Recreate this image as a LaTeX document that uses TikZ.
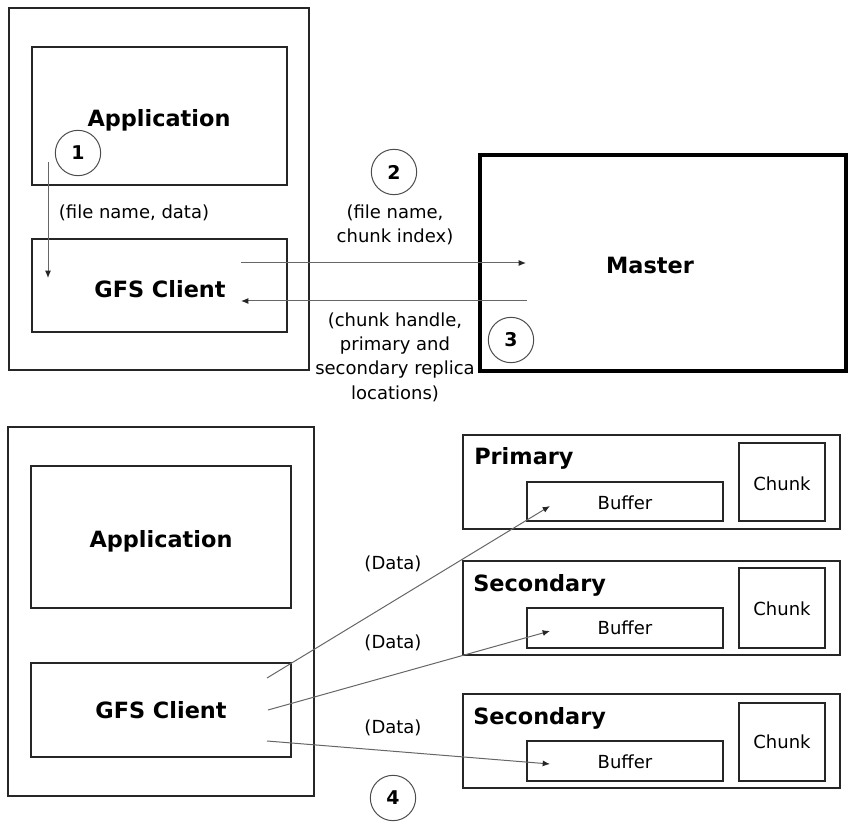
\documentclass[tikz,border=0pt]{standalone}
\usepackage{fontspec}
\setmainfont{DejaVu Sans}
\usetikzlibrary{arrows.meta,fit}
\begin{document}
\begin{tikzpicture}[x=0.75pt,y=-0.75pt,
  box/.style={draw=black!85,line width=1.1pt,inner sep=0pt},
  heavybox/.style={draw=black,line width=3pt,inner sep=0pt},
  title/.style={font=\fontsize{16.8}{20}\selectfont\bfseries,anchor=base,inner sep=0pt},
  lbl/.style={font=\fontsize{13.5}{18.3}\selectfont,align=center,inner sep=0pt},
  num/.style={circle,draw=black!70,line width=0.75pt,minimum size=34pt,inner sep=0pt,
              font=\fontsize{14.2}{16}\selectfont\bfseries},
  flow/.style={draw=black!60,line width=0.75pt,
               -{Latex[length=5.5pt,width=4.5pt,color=black!85]}}]

\useasboundingbox (0,0) rectangle (851,830);

% ---------- top: client machine and master ----------
\node[box,fit={(9,8) (309,370)}] (host1) {};
\node[box,fit={(32,47) (287,185)}] (app1) {};
\node[title] (app1t) at (159,127) {Application};
\node[box,fit={(32,239) (287,332)}] (cli1) {};
\node[title] (cli1t) at (160,298) {GFS Client};

\node[heavybox,fit={(480,155) (846,371)}] (master) {};
\node[title] (mastert) at (650,274) {Master};

\node[num] (n1) at (78,153) {1};
\node[num] (n2) at (394,172) {2};
\node[num] (n3) at (511,340) {3};

\coordinate (a1s) at (48,162);
\coordinate (a1e) at (48,278);
\draw[flow] (a1s) -- (a1e);
\node[lbl] (l1) at (134,213) {(file name, data)};

\coordinate (a2s) at (241,263);
\coordinate (a2e) at (526,263);
\draw[flow] (a2s) -- (a2e);
\node[lbl] (l2) at (395,225) {(file name,\\chunk index)};

\coordinate (a3s) at (527,301);
\coordinate (a3e) at (241,301);
\draw[flow] (a3s) -- (a3e);
\node[lbl] (l3) at (395,357) {(chunk handle,\\primary and\\secondary replica\\locations)};

% ---------- bottom: client machine and chunkservers ----------
\node[box,fit={(8,427) (314,796)}] (host2) {};
\node[box,fit={(31,466) (291,608)}] (app2) {};
\node[title] (app2t) at (161,548) {Application};
\node[box,fit={(31,663) (291,757)}] (cli2) {};
\node[title] (cli2t) at (161,719) {GFS Client};

% primary replica
\node[box,fit={(463,435) (840,529)}] (prim) {};
\node[title,anchor=base west] (primt) at (474,465) {Primary};
\node[box,fit={(527,482) (723,521)}] (buf1) {};
\node[lbl,anchor=base] (buf1t) at (625,510) {Buffer};
\node[box,fit={(739,443) (825,521)}] (chk1) {};
\node[lbl,anchor=base] (chk1t) at (782,491) {Chunk};

% first secondary replica
\node[box,fit={(463,561) (840,655)}] (sec1) {};
\node[title,anchor=base west] (sec1t) at (473,592) {Secondary};
\node[box,fit={(527,608) (723,648)}] (buf2) {};
\node[lbl,anchor=base] (buf2t) at (625,635) {Buffer};
\node[box,fit={(739,568) (825,648)}] (chk2) {};
\node[lbl,anchor=base] (chk2t) at (782,616) {Chunk};

% second secondary replica
\node[box,fit={(463,694) (840,788)}] (sec2) {};
\node[title,anchor=base west] (sec2t) at (473,725) {Secondary};
\node[box,fit={(527,741) (723,781)}] (buf3) {};
\node[lbl,anchor=base] (buf3t) at (625,769) {Buffer};
\node[box,fit={(739,703) (825,781)}] (chk3) {};
\node[lbl,anchor=base] (chk3t) at (782,749) {Chunk};

% data pushed from the client to every buffer
\coordinate (d1s) at (267,678);
\coordinate (d1e) at (550,506);
\coordinate (d2s) at (268,710);
\coordinate (d2e) at (550,631);
\coordinate (d3s) at (267,741);
\coordinate (d3e) at (550,764);
\draw[flow] (d1s) -- (d1e);
\draw[flow] (d2s) -- (d2e);
\draw[flow] (d3s) -- (d3e);
\node[lbl] (dl1) at (393,564) {(Data)};
\node[lbl] (dl2) at (393,643) {(Data)};
\node[lbl] (dl3) at (393,728) {(Data)};

\node[num] (n4) at (393,798) {4};
\end{tikzpicture}
\end{document}
